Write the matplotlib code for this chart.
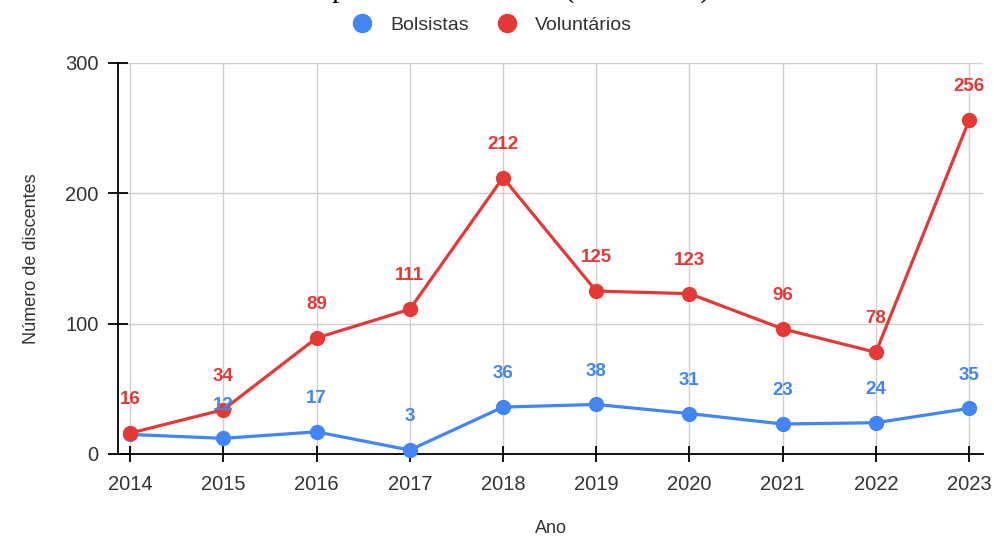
import matplotlib.pyplot as plt

plt.rcParams['font.family'] = ['Liberation Sans', 'DejaVu Sans']

anos = [2014, 2015, 2016, 2017, 2018, 2019, 2020, 2021, 2022, 2023]
bolsistas = [15, 12, 17, 3, 36, 38, 31, 23, 24, 35]
voluntarios = [16, 34, 89, 111, 212, 125, 123, 96, 78, 256]
# the 2014 scholarship value has no label of its own
rotulo_bolsistas = [False, True, True, True, True, True, True, True, True, True]

azul = '#4285F4'
vermelho = '#E53935'

fig = plt.figure(figsize=(9.94, 5.36), dpi=100)
ax = fig.add_axes([0.1187, 0.153, 0.8703, 0.7295])

# caption line above the chart, mostly cut off by the top edge
fig.text(710 / 994, 1 + 3 / 536,
         'Número de discentes por vínculo e o ano (2014-2023)',
         family='Liberation Serif', fontsize=21, ha='right', va='baseline',
         color='black')

ax.plot(anos, bolsistas, color=azul, lw=2.3, marker='o', ms=10,
        clip_on=False, zorder=3, label='Bolsistas')
ax.plot(anos, voluntarios, color=vermelho, lw=2.3, marker='o', ms=10,
        clip_on=False, zorder=4, label='Voluntários')

for x, v in zip(anos, voluntarios):
    ax.annotate(str(v), (x, v), xytext=(0, 24), textcoords='offset points',
                ha='center', va='center', fontsize=13.5, fontweight='bold',
                color=vermelho, zorder=5, annotation_clip=False)
for x, v, mostra in zip(anos, bolsistas, rotulo_bolsistas):
    if mostra:
        ax.annotate(str(v), (x, v), xytext=(0, 24), textcoords='offset points',
                    ha='center', va='center', fontsize=13.5, fontweight='bold',
                    color=azul, zorder=6, annotation_clip=False)

ax.set_xlim(2013.87, 2023.15)
ax.set_ylim(0, 300)
ax.set_xticks(anos)
ax.set_yticks([0, 100, 200, 300])
ax.grid(True, color='#cfcfcf', lw=1)
ax.set_axisbelow(True)

for s in ['top', 'right']:
    ax.spines[s].set_visible(False)
for s in ['left', 'bottom']:
    ax.spines[s].set_color('black')
    ax.spines[s].set_linewidth(1.3)

ax.tick_params(axis='y', direction='inout', length=14, width=1.3,
               labelsize=14.5, labelcolor='#333333', pad=7)
ax.tick_params(axis='x', direction='inout', length=12, width=1.3,
               labelsize=14.5, labelcolor='#333333', pad=9)

ax.set_xlabel('Ano', fontsize=13, color='#333333', labelpad=19)
ax.set_ylabel('Número de discentes', fontsize=13, color='#333333', labelpad=18)

leg = fig.legend(handles=ax.get_lines(), loc='center', bbox_to_anchor=(0.497, 1 - 25 / 536),
                 ncol=2, frameon=False, fontsize=14, handlelength=0.7,
                 handletextpad=1.1, columnspacing=1.6, labelcolor='#333333')
for h in leg.legend_handles:
    h.set_linestyle('none')
    h.set_markersize(13)

fig.savefig('out.png', dpi=100)
